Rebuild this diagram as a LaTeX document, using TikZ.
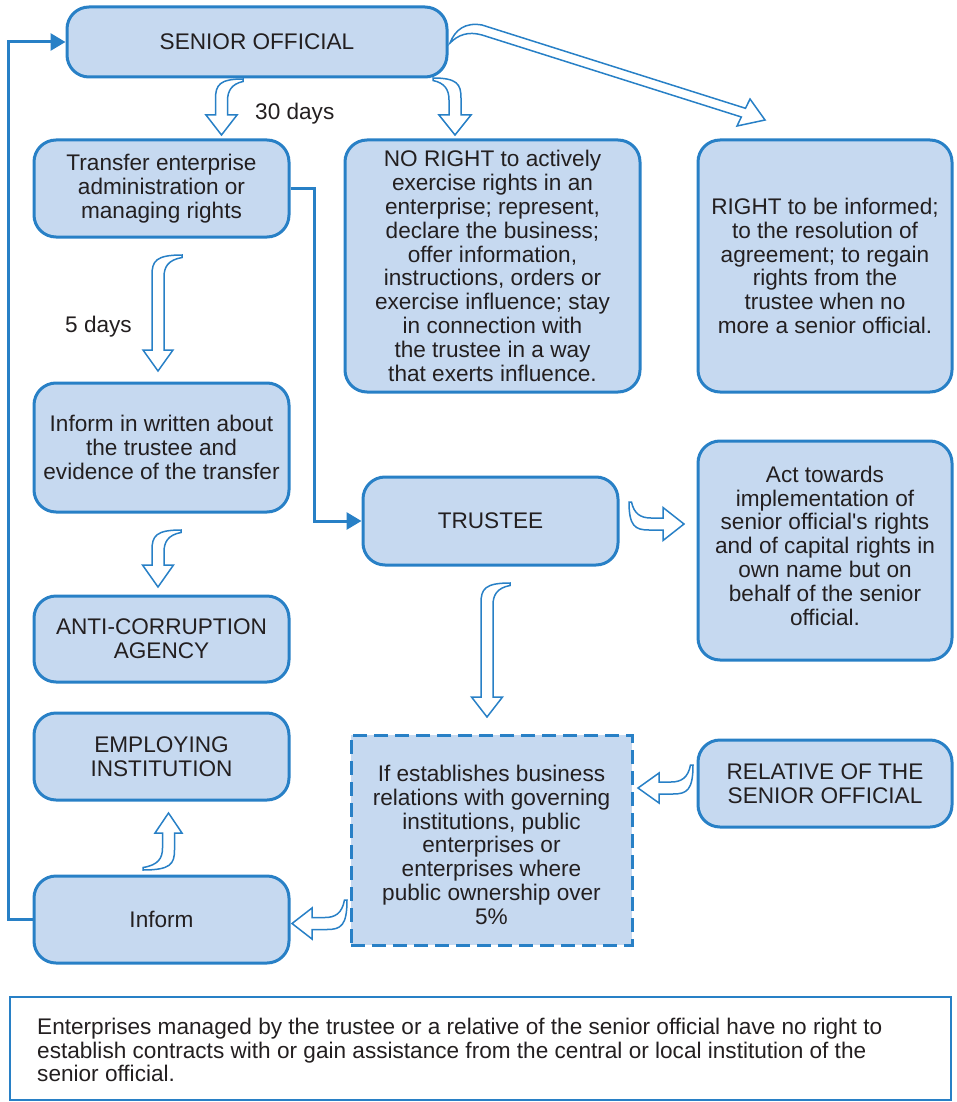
\documentclass[tikz,border=0pt]{standalone}
\usepackage{fontspec}
\setmainfont{Liberation Sans}
\usetikzlibrary{arrows.meta}
\definecolor{boxfill}{RGB}{198,217,240}
\definecolor{boxline}{RGB}{40,128,198}
\definecolor{txt}{RGB}{35,31,32}
\newcommand\hollowarr[7]{%
\begin{scope}[shift={#1}, x={#2}, y={#3}]
\draw[harrow] (#5,0) .. controls (-2,0) and (-6,6) .. (-6,20) -- (-6,#4-#6) -- (-#7,#4-#6) -- (0,#4) -- (#7,#4-#6) -- (6,#4-#6) -- (6,22) .. controls (6,12) and (10,5) .. (#5,2.5) -- cycle;
\end{scope}}
\tikzset{
  every node/.style={font=\fontsize{22.6}{23.8}\selectfont, text=txt},
  box/.style={draw=boxline, fill=boxfill, line width=3pt, rounded corners=22pt, align=center, inner sep=0pt},
  dbox/.style={draw=boxline, fill=boxfill, line width=3pt, dash pattern=on 14pt off 7pt, align=center, inner sep=0pt},
  conn/.style={draw=boxline, line width=3pt, -{Triangle[length=15pt,width=17pt]}},
  harrow/.style={draw=boxline, fill=white, line width=1.5pt, line join=miter},
  lbl/.style={inner sep=0pt}
}
\begin{document}
\begin{tikzpicture}[x=1pt,y=-1pt]
\useasboundingbox (0,0) rectangle (957,1102);
% boxes
\node[box, minimum width=380pt, minimum height=70pt] (senior) at (257,42) {SENIOR OFFICIAL};
\node[box, minimum width=255pt, minimum height=97pt] (transfer) at (161.5,188.5) {Transfer enterprise\\administration or\\managing rights};
\node[box, minimum width=295pt, minimum height=252pt] (noright) at (492.5,266) {NO RIGHT to actively\\exercise rights in an\\enterprise; represent,\\declare the business;\\offer information,\\instructions, orders or\\exercise influence; stay\\in connection with\\the trustee in a way\\that exerts influence.};
\node[box, minimum width=254pt, minimum height=252pt] (right) at (825,266) {RIGHT to be informed;\\to the resolution of\\agreement; to regain\\rights from the\\trustee when no\\more a senior official.};
\node[box, minimum width=255pt, minimum height=129pt] (written) at (161.5,447.5) {Inform in written about\\the trustee and\\evidence of the transfer};
\node[box, minimum width=255pt, minimum height=88pt] (trustee) at (490.5,521) {TRUSTEE};
\node[box, minimum width=254pt, minimum height=219pt] (act) at (825,550.5) {Act towards\\implementation of\\senior official\textquotesingle s rights\\and of capital rights in\\own name but on\\behalf of the senior\\official.\rule[-10pt]{0pt}{10pt}};
\node[box, minimum width=255pt, minimum height=86pt] (anti) at (161.5,639) {ANTI-CORRUPTION\\AGENCY};
\node[box, minimum width=255pt, minimum height=87pt] (employ) at (161.5,756.5) {EMPLOYING\\INSTITUTION};
\node[dbox, minimum width=281pt, minimum height=210pt] (cond) at (491.5,840) {\rule{0pt}{26pt}If establishes business\\relations with governing\\institutions, public\\enterprises or\\enterprises where\\public ownership over\\5\%};
\node[box, minimum width=254pt, minimum height=87pt] (relative) at (825,783.5) {RELATIVE OF THE\\SENIOR OFFICIAL};
\node[box, minimum width=255pt, minimum height=87pt] (inform) at (161.5,919.5) {Inform};
\node[draw=boxline, line width=2.5pt, minimum width=941pt, minimum height=103pt, inner sep=0pt] (note) at (480.5,1048.5) {};
\node[lbl, anchor=west, align=left] (notetext) at (37,1050) {Enterprises managed by the trustee or a relative of the senior official have no right to\\establish contracts with or gain assistance from the central or local institution of the\\senior official.};
% labels
\node[lbl, anchor=west] (d30) at (255,114) {30 days};
\node[lbl, anchor=west] (d5) at (65,327) {5 days};
% connectors
\draw[conn] (inform.west) -- ++(-24,0) |- (senior.west);
\draw[conn] (transfer.east) -- ++(24,0) |- (trustee.west);
% hollow arrows
\hollowarr{(221.5,79)}{(1pt,0)}{(0,-1pt)}{56}{21.5}{20}{15.5}
\hollowarr{(455,78)}{(-1pt,0)}{(0,-1pt)}{57}{22}{20}{16}
\hollowarr{(158,255)}{(1pt,0)}{(0,-1pt)}{116}{24}{21}{15}
\hollowarr{(158,530)}{(1pt,0)}{(0,-1pt)}{57}{23}{22}{15.5}
\hollowarr{(487,583)}{(1pt,0)}{(0,-1pt)}{134}{23}{20}{15.5}
\hollowarr{(168.5,870)}{(-1pt,0)}{(0,1pt)}{57}{25.5}{20}{13.5}
\hollowarr{(629,524)}{(0,1pt)}{(1pt,0)}{55}{22}{21}{16.5}
\hollowarr{(693,788)}{(0,1pt)}{(-1pt,0)}{55}{23}{21}{15}
\hollowarr{(347,923.5)}{(0,1pt)}{(-1pt,0)}{55}{23.5}{20}{15.5}
\draw[harrow] (450,43) .. controls (455,30) and (465,22) .. (482,25) -- (745.5,108.3) -- (750,99) -- (765,120) -- (737,126) -- (741.3,117) -- (482,35) .. controls (468,31) and (458,35) .. (450,43) -- cycle;
\end{tikzpicture}
\end{document}
